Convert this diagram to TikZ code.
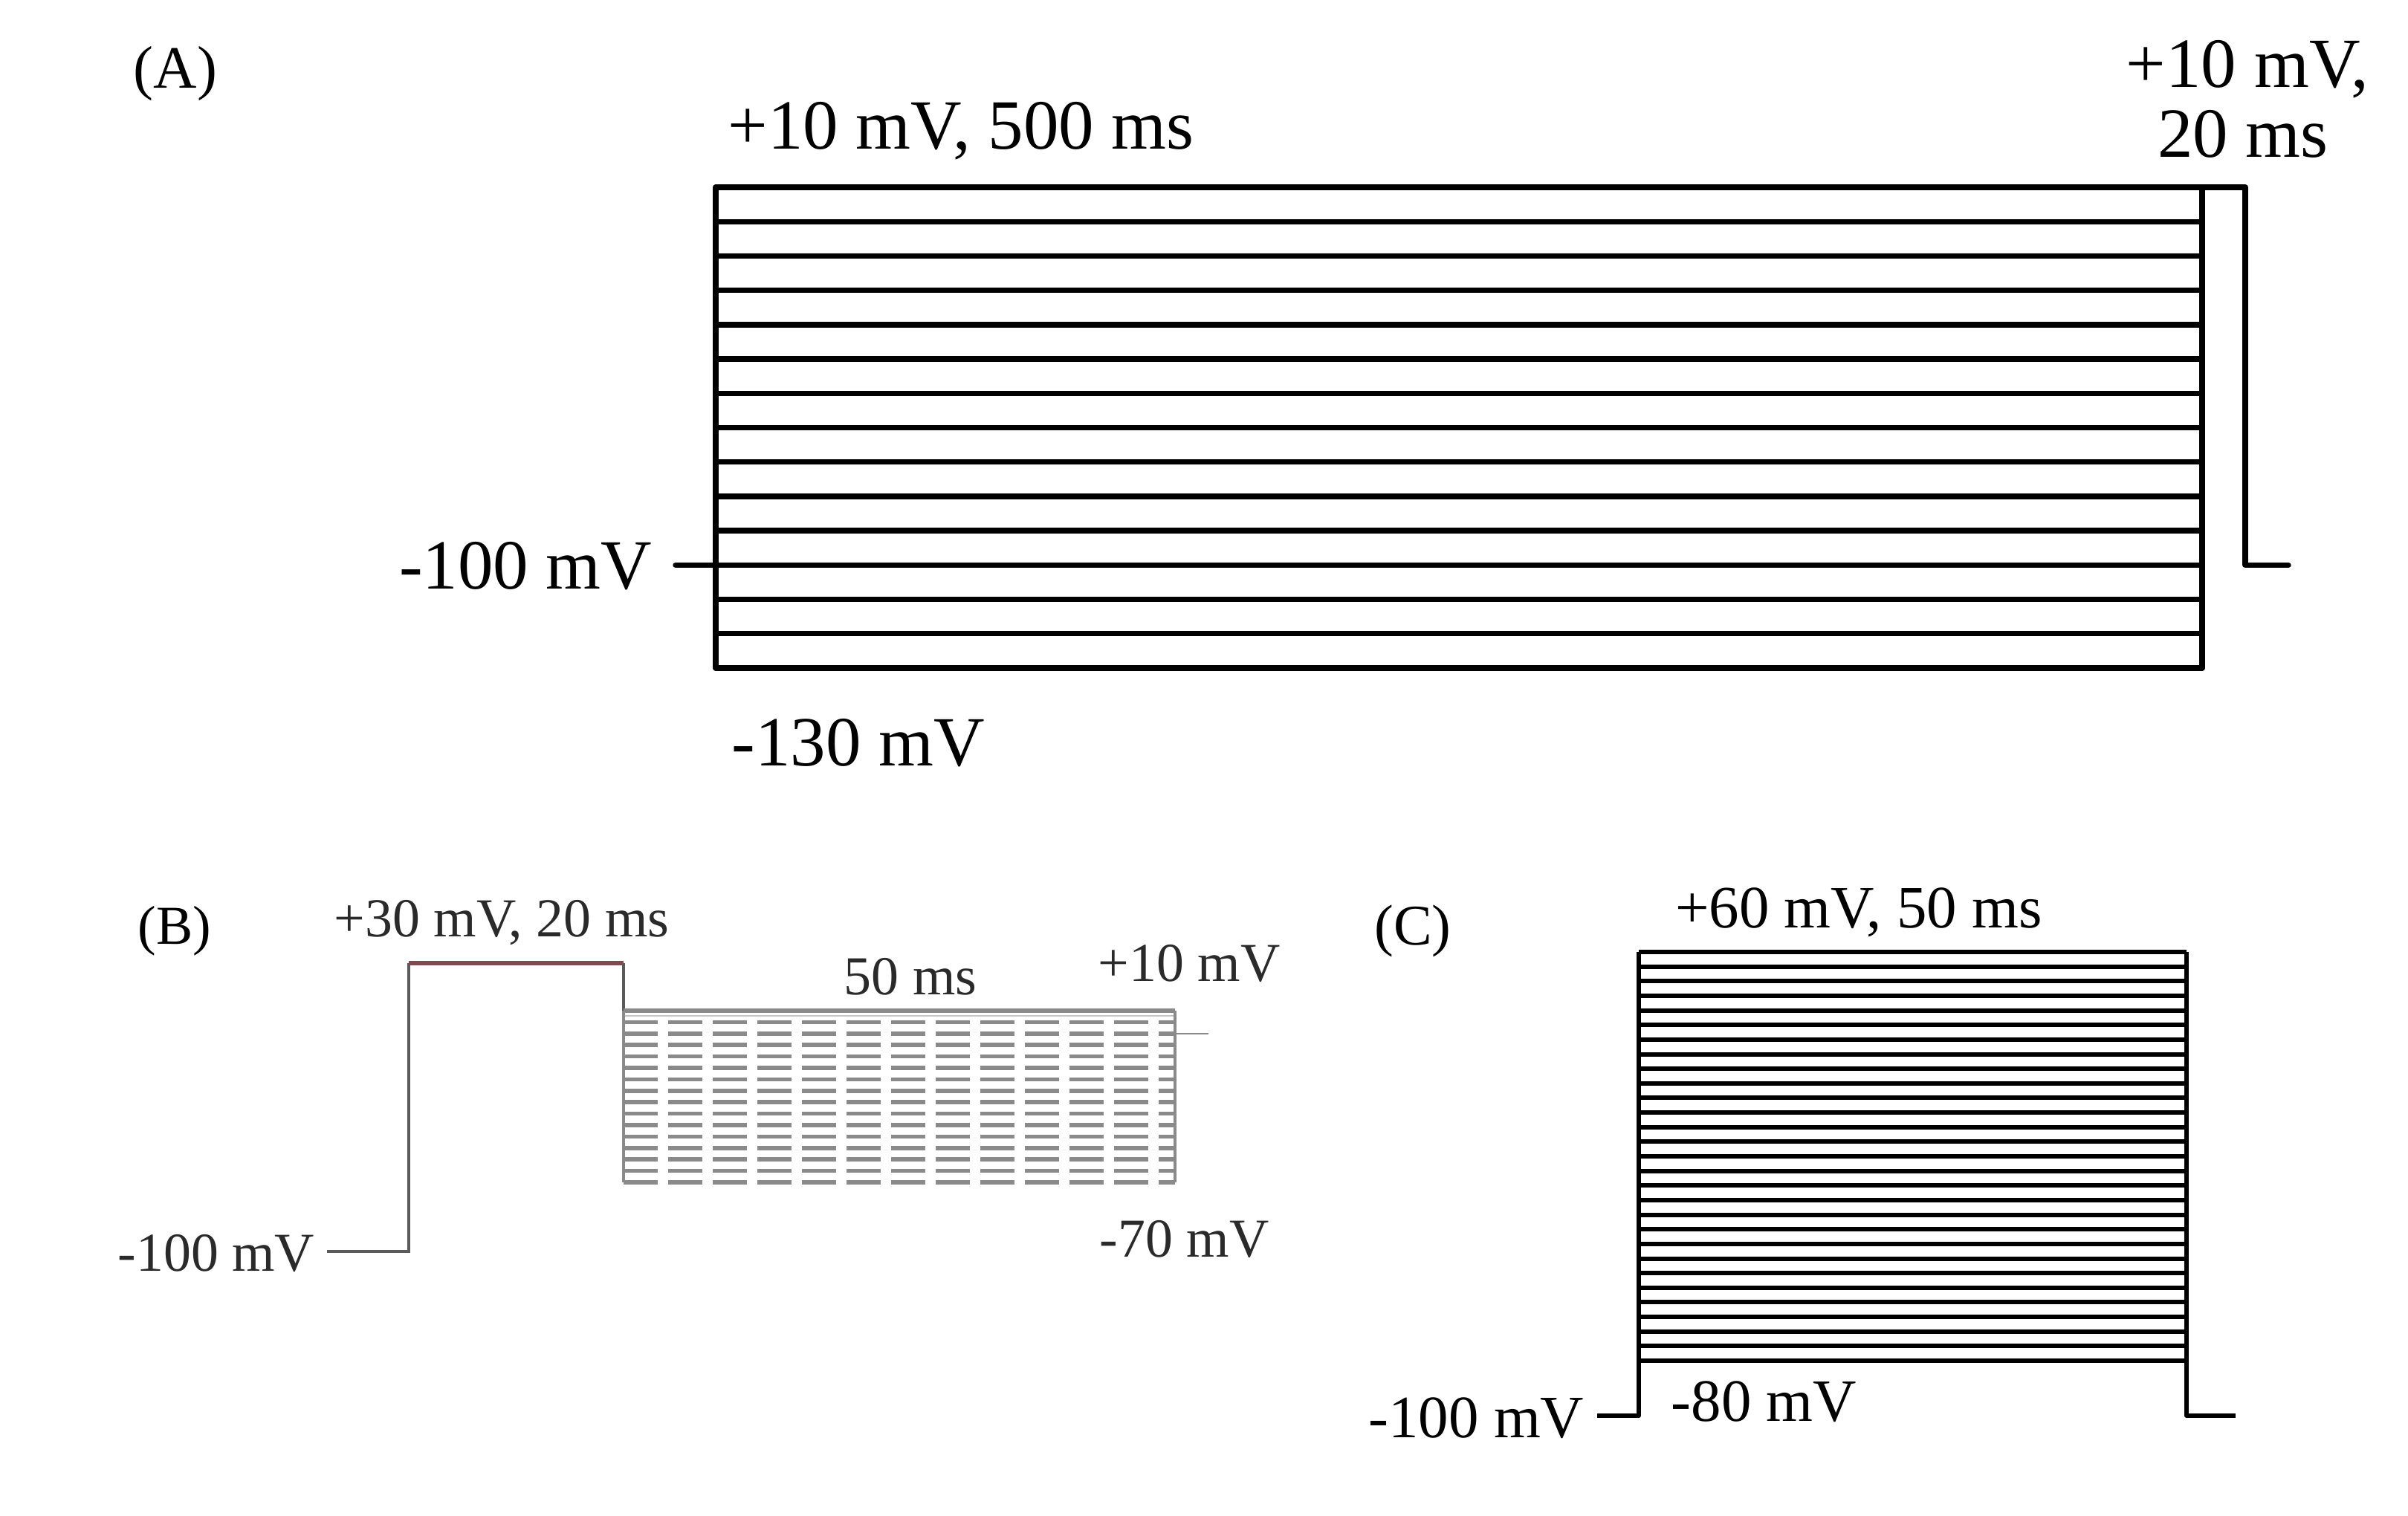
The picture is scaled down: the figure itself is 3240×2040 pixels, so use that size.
\documentclass[tikz,border=0pt]{standalone}
\usepackage{fontspec}
\setmainfont{Liberation Serif}
\definecolor{bgray}{HTML}{8A8A8A}
\definecolor{bdark}{HTML}{5A5A5A}
\definecolor{bred}{HTML}{7E4A50}
\definecolor{btext}{HTML}{2A2A2A}
\tikzset{
  aline/.style={line width=2.1pt, black, line join=round, line cap=round},
  cline/.style={line width=1.7pt, black, line join=round},
  bline/.style={line width=1.0pt, bdark},
  bdash/.style={line width=1.6pt, bgray, dash pattern=on 0.46cm off 0.14cm},
  alab/.style={inner sep=0pt, font=\fontsize{27}{30}\selectfont},
  blab/.style={inner sep=0pt, text=btext, font=\fontsize{21}{24}\selectfont},
  clab/.style={inner sep=0pt, font=\fontsize{23}{26}\selectfont},
  plab/.style={inner sep=0pt, font=\fontsize{23}{26}\selectfont}
}
\begin{document}
\begin{tikzpicture}[x=0.01cm, y=-0.01cm]
\useasboundingbox (0,0) rectangle (3240,2040);
% ---------- Panel A ----------
\node[plab] (labA) at (236,99) {(A)};
\foreach \i in {1,...,14} {
  \draw[aline] (963,{252+\i*46.214}) -- (2963,{252+\i*46.214});
}
\coordinate (aTL) at (963,252);
\coordinate (aBL) at (963,899);
\coordinate (aTR) at (2963,252);
\coordinate (aBR) at (2963,899);
\coordinate (aHold) at (909,760.4);
\coordinate (aHoldE) at (963,760.4);
\coordinate (aStepT) at (3021,252);
\coordinate (aStepB) at (3021,760.4);
\coordinate (aTail) at (3079,760.4);
\draw[aline] (aTL) -- (aStepT) -- (aStepB) -- (aTail);
\draw[aline] (aTL) -- (aBL);
\draw[aline] (aTR) -- (aBR);
\draw[aline] (aHold) -- (aHoldE);
\node[alab, anchor=west] (a1) at (979,176) {+10 mV, 500 ms};
\node[alab, anchor=east] (a2) at (878,762) {-100 mV};
\node[alab, anchor=west] (a3) at (984,1000) {-130 mV};
\node[alab] (a4) at (3024,93) {+10 mV,};
\node[alab] (a5) at (3018,180) {20 ms};
% ---------- Panel B ----------
\node[plab, font=\fontsize{21}{24}\selectfont] (labB) at (235,1253) {(B)};
\coordinate (bH0) at (440,1684);
\coordinate (bH1) at (550,1684);
\coordinate (bU) at (550,1296);
\coordinate (bUE) at (839,1296);
\coordinate (bF) at (839,1360);
\coordinate (bFR) at (1581,1360);
\draw[bline] (bH0) -- (bH1) -- (bU);
\draw[line width=1.6pt, bred] (bU) -- (bUE);
\draw[bline] (bUE) -- (bF);
\draw[line width=1.5pt, bgray] (bF) -- (bFR);
\draw[line width=0.7pt, bgray!50] (839,1367) -- (1581,1367);
\foreach \i in {1,...,15} {
  \draw[bdash] (839,{1360+\i*15.4}) -- (1581,{1360+\i*15.4});
}
\draw[line width=1.0pt, bgray] (bF) -- (839,1591);
\draw[line width=1.0pt, bgray] (bFR) -- (1581,1591);
\draw[line width=0.8pt, bgray] (1581,1391) -- (1626,1391);
\node[blab] (b1) at (675,1242) {+30 mV, 20 ms};
\node[blab] (b2) at (1225,1314) {50 ms};
\node[blab, anchor=west] (b3) at (1477,1296) {+10 mV};
\node[blab, anchor=west] (b4) at (1479,1667) {-70 mV};
\node[blab, anchor=east] (b5) at (424,1686) {-100 mV};
% ---------- Panel C ----------
\node[plab, font=\fontsize{22}{25}\selectfont] (labC) at (1901,1253) {(C)};
\foreach \i in {0,...,28} {
  \draw[cline] (2205,{1281+\i*19.643}) -- (2942,{1281+\i*19.643});
}
\coordinate (cH0) at (2149,1905);
\coordinate (cH1) at (2205,1905);
\coordinate (cT) at (2205,1281);
\coordinate (cTR) at (2942,1281);
\coordinate (cBR) at (2942,1905);
\coordinate (cTail) at (3008,1905);
\draw[cline] (cH0) -- (cH1) -- (cT);
\draw[cline] (cTR) -- (cBR) -- (cTail);
\node[clab] (c1) at (2501,1228) {+60 mV, 50 ms};
\node[clab, anchor=west] (c2) at (2248,1886) {-80 mV};
\node[clab, anchor=east] (c3) at (2132,1908) {-100 mV};
\end{tikzpicture}
\end{document}
